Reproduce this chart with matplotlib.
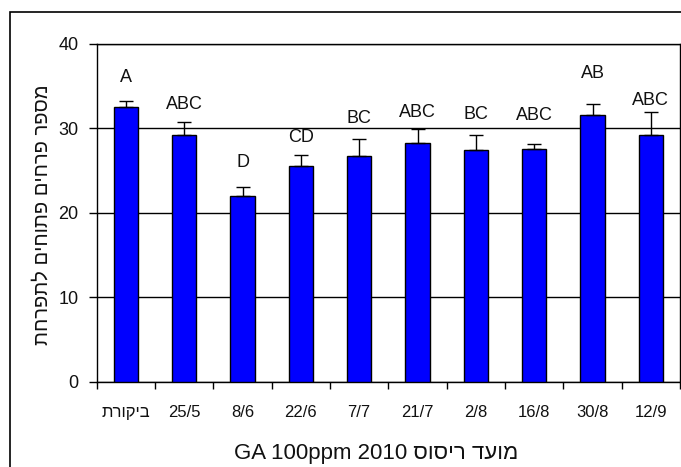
import matplotlib
matplotlib.use("Agg")
import matplotlib.pyplot as plt
from matplotlib.patches import Rectangle
from matplotlib.ticker import FixedLocator

plt.rcParams['font.family'] = ['Liberation Sans', 'DejaVu Sans']

# data
dates = ['ביקורת', '25/5', '8/6', '22/6', '7/7', '21/7', '2/8', '16/8', '30/8', '12/9']
means = [32.5, 29.2, 22.0, 25.5, 26.7, 28.3, 27.4, 27.6, 31.6, 29.2]
errs = [0.7, 1.6, 1.05, 1.4, 2.0, 1.6, 1.8, 0.55, 1.25, 2.7]
letters = ['A', 'ABC', 'D', 'CD', 'BC', 'ABC', 'BC', 'ABC', 'AB', 'ABC']
letter_y = [36.0, 32.8, 26.0, 28.9, 31.2, 31.9, 31.6, 31.5, 36.5, 33.3]
y_ticks = [0, 10, 20, 30, 40]

ylabel_he = 'מספר פרחים פתוחים לתפרחת'
xlabel_he = 'מועד ריסוס'
xlabel_en = 'GA 100ppm 2010'


def rtl(s):
    # matplotlib has no bidi support, so flip pure Hebrew runs by hand
    if any('\u0590' <= c <= '\u05ff' for c in s):
        return s[::-1]
    return s


W, H = 681, 467
fig = plt.figure(figsize=(W / 100, H / 100), dpi=100)
ax = fig.add_axes([96.7 / W, 1 - 381.7 / H, (680 - 96.7) / W, (381.7 - 44) / H])

x = list(range(len(dates)))
ax.bar(x, means, width=0.42, color='#0000FF', edgecolor='black', linewidth=1, zorder=3)
ax.errorbar(x, means, yerr=[[0] * len(errs), errs], fmt='none', ecolor='black',
            elinewidth=1, capsize=5, capthick=1, zorder=4)

for xi, lab, ly in zip(x, letters, letter_y):
    ax.text(xi, ly, lab, ha='center', va='center', fontsize=13, color='#111111')

ax.set_xlim(-0.5, len(dates) - 0.5)
ax.set_ylim(0, 40)
ax.set_yticks(y_ticks)
ax.yaxis.grid(True, color='black', linewidth=1, zorder=0)
ax.set_axisbelow(True)

ax.set_xticks(x)
ax.set_xticklabels([rtl(d) for d in dates], fontsize=12, color='#111111')
ax.tick_params(axis='x', which='major', length=0, pad=17)
ax.xaxis.set_minor_locator(FixedLocator([i + 0.5 for i in range(-1, len(dates))]))
ax.tick_params(axis='x', which='minor', length=5, width=1, direction='out', color='black')
ax.tick_params(axis='y', length=6, width=1, direction='out', pad=7, labelsize=13,
               labelcolor='#111111')

for sp in ax.spines.values():
    sp.set_color('black')
    sp.set_linewidth(1)

fig.text(42 / W, 1 - 215 / H, rtl(ylabel_he), rotation=90, ha='center', va='center',
         fontsize=14.5, color='#111111')
fig.text(376 / W, 1 - 453 / H, xlabel_en + ' ' + rtl(xlabel_he), ha='center', va='center',
         fontsize=16, color='#111111')

# outer chart frame (right and bottom edges fall outside the picture)
fig.add_artist(Rectangle((10 / W, -0.1), 1.2, 1 - 12 / H + 0.1, transform=fig.transFigure,
                         fill=False, edgecolor='black', linewidth=1.2))

fig.savefig('out.png', dpi=100)
plt.close(fig)
